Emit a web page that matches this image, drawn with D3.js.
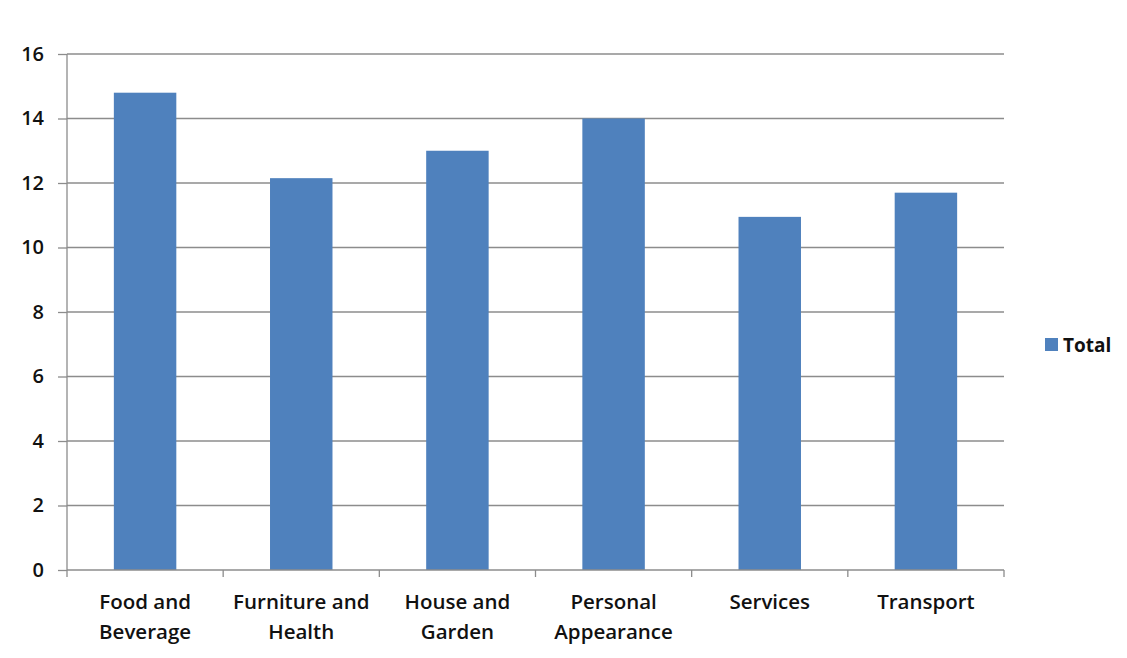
<!DOCTYPE html>
<html>
<head>
<meta charset="UTF-8">
<title></title>
<script src="https://d3js.org/d3.v7.min.js"></script>
<style>
  body { margin: 0; background: #fff; }
  text { font-family: "Open Sans", Lato, sans-serif; fill: #111; }
</style>
</head>
<body>
<div id="chart"></div>
<script>
// data
var categories = [["Food and", "Beverage"], ["Furniture and", "Health"], ["House and", "Garden"],
                  ["Personal", "Appearance"], ["Services"], ["Transport"]];
var totals = [14.8, 12.15, 13.0, 14.0, 10.95, 11.7];
var yTicks = [0, 2, 4, 6, 8, 10, 12, 14, 16];
var seriesName = "Total";

var W = 1127, H = 658;
var margin = {top: 54, right: 123, bottom: 88, left: 67};
var width = W - margin.left - margin.right,
    height = H - margin.top - margin.bottom;

var svg = d3.select("#chart").append("svg")
  .attr("width", W).attr("height", H);
var g = svg.append("g")
  .attr("transform", "translate(" + margin.left + "," + margin.top + ")");

var x = d3.scaleBand()
  .domain(d3.range(categories.length))
  .range([0, width])
  .padding(0);

var y = d3.scaleLinear()
  .domain([0, 16])
  .range([height, 0]);

// gridlines
g.selectAll(".grid").data(yTicks.slice(1)).enter().append("line")
  .attr("x1", 0).attr("x2", width)
  .attr("y1", function(d) { return y(d); })
  .attr("y2", function(d) { return y(d); })
  .attr("stroke", "#8c8c8c").attr("stroke-width", 1.3);

// bars
var barW = x.bandwidth() * 0.4;
g.selectAll(".bar").data(totals).enter().append("rect")
  .attr("x", function(d, i) { return x(i) + (x.bandwidth() - barW) / 2; })
  .attr("y", function(d) { return y(d); })
  .attr("width", barW)
  .attr("height", function(d) { return height - y(d); })
  .attr("fill", "#4f81bd");

// y axis
var yAxis = g.append("g")
  .call(d3.axisLeft(y).tickValues(yTicks).tickSize(9).tickPadding(14));
yAxis.select(".domain").attr("stroke", "#8c8c8c").attr("stroke-width", 1.3)
  .attr("d", "M0," + y(0) + "V" + y(16));
yAxis.selectAll(".tick line").attr("stroke", "#8c8c8c").attr("stroke-width", 1.3);
yAxis.selectAll(".tick text").style("font-size", "20px").style("font-weight", "600").attr("fill", "#111");

// x axis: ticks on band edges
var xAxis = g.append("g").attr("transform", "translate(0," + height + ")");
xAxis.append("line").attr("x1", 0).attr("x2", width)
  .attr("stroke", "#8c8c8c").attr("stroke-width", 1.3);
xAxis.selectAll(".xt").data(d3.range(categories.length + 1)).enter().append("line")
  .attr("x1", function(i) { return i * x.step(); })
  .attr("x2", function(i) { return i * x.step(); })
  .attr("y1", 0).attr("y2", 7)
  .attr("stroke", "#8c8c8c").attr("stroke-width", 1.3);

var labels = xAxis.selectAll(".xl").data(categories).enter().append("text")
  .attr("text-anchor", "middle")
  .attr("transform", function(d, i) { return "translate(" + (x(i) + x.bandwidth() / 2) + ",39)"; })
  .style("font-size", "20.5px").style("font-weight", "600");
labels.selectAll("tspan").data(function(d) { return d; }).enter().append("tspan")
  .attr("x", 0)
  .attr("dy", function(d, j) { return j === 0 ? 0 : 30; })
  .text(function(d) { return d; });

// legend
var legend = svg.append("g").attr("transform", "translate(1045,338)");
legend.append("rect").attr("width", 13).attr("height", 13).attr("fill", "#4f81bd");
legend.append("text").attr("x", 18).attr("y", 14)
  .style("font-size", "19px").style("font-weight", "bold")
  .text(seriesName);
</script>
</body>
</html>
